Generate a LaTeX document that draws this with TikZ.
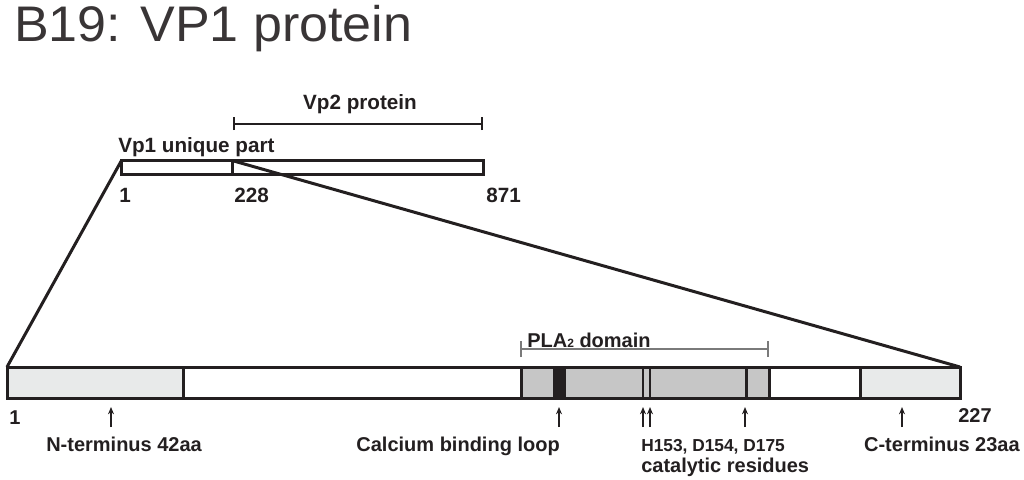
\documentclass[tikz,border=0pt]{standalone}
\usepackage{fontspec}
\setmainfont{Liberation Sans}
\usetikzlibrary{arrows.meta,fit}
\definecolor{ink}{HTML}{231F20}
\definecolor{lightg}{HTML}{E8EAEA}
\definecolor{midg}{HTML}{C6C6C6}
\definecolor{brk}{HTML}{7A7A7A}
\begin{document}
\begin{tikzpicture}[x=0.75pt,y=-0.75pt,
  seg/.style={draw=ink, line width=2.25pt, inner sep=0pt, outer sep=0pt},
  lbl/.style={font=\fontsize{15.5}{18}\bfseries\selectfont, text=ink, inner sep=0pt},
  lbb/.style={font=\fontsize{15}{18}\bfseries\selectfont, text=ink, inner sep=0pt},
  sml/.style={font=\fontsize{13}{16}\bfseries\selectfont, text=ink, inner sep=0pt},
  pin/.style={draw=ink, line width=1.1pt, -{Stealth[length=5.5pt,width=4.5pt]}},
  divider/.style={draw=ink, line width=2.25pt},
  thin/.style={draw=ink, line width=1.8pt},
  bracket/.style={draw=brk, line width=0.8pt}]
\useasboundingbox (0,0) rectangle (1024,479);

% title
\node[anchor=base west, inner sep=0pt, text=ink!90] (title) at (14,41)
  {\fontsize{37.5}{42}\selectfont\scalebox{1.04}[1]{B19: VP1 protein}};

% top overview box
\node[seg, fit={(121.5,160.5) (232,174.5)}] (uniq) {};
\node[seg, fit={(232,160.5) (483.5,174.5)}] (rest) {};
\node[lbl, anchor=base west] (uniqlbl) at (118,152) {Vp1 unique part};
\coordinate (vpa) at (234,124);
\coordinate (vpb) at (482,124);
\draw[ink, line width=2pt] (vpa) -- (vpb);
\draw[bracket, draw=ink] ([yshift=-4.5]vpa) -- ([yshift=5]vpa);
\draw[bracket, draw=ink] ([yshift=-4.5]vpb) -- ([yshift=5]vpb);
\node[lbl] (vp2lbl) at (360,104) {Vp2 protein};
\node[lbl, anchor=base west] (n1) at (119,202) {1};
\node[lbl, anchor=base west] (n228) at (234,202) {228};
\node[lbl, anchor=base west] (n871) at (486,202) {871};

% bottom bar fills
\fill[lightg] (7,367) rectangle (183,398);
\fill[midg] (521,367) rectangle (769,398);
\fill[lightg] (860,367) rectangle (960,398);
\fill[ink] (553,367) rectangle (566,398);
% dividers
\draw[divider] (183,367) -- (183,398);
\draw[divider] (521,367) -- (521,398);
\draw[thin] (643,367) -- (643,398);
\draw[thin] (650,367) -- (650,398);
\draw[divider] (746,367) -- (746,398);
\draw[divider] (769,367) -- (769,398);
\draw[divider] (860,367) -- (860,398);
\node[seg, fit={(7,367) (960,398)}] (bar) {};

% zoom lines
\draw[ink, line width=2.25pt] (uniq.north west) -- (bar.north west);
\draw[ink, line width=2.25pt] (uniq.north east) -- (bar.north east);

% PLA2 bracket
\coordinate (pa) at (521,349);
\coordinate (pb) at (768,349);
\draw[bracket] (pa) -- (pb);
\draw[bracket] ([yshift=-6]pa) -- ([yshift=6]pa);
\draw[bracket] ([yshift=-6]pb) -- ([yshift=6]pb);
\node[lbb, anchor=base west] (plalbl) at (527,347)
  {PLA{\fontsize{9}{10}\selectfont 2} domain};

% numbers
\node[lbb, anchor=base west] (b1) at (9,424) {1};
\node[lbb, anchor=base west] (b227) at (958,422) {227};

% arrows
\coordinate (a1t) at (111,407); \coordinate (a1b) at (111,427);
\coordinate (a2t) at (559,407); \coordinate (a2b) at (559,427);
\coordinate (a3t) at (643,407); \coordinate (a3b) at (643,427);
\coordinate (a4t) at (650,407); \coordinate (a4b) at (650,427);
\coordinate (a5t) at (745,407); \coordinate (a5b) at (745,427);
\coordinate (a6t) at (902,407); \coordinate (a6b) at (902,427);
\foreach \i in {1,...,6} \draw[pin] (a\i b) -- (a\i t);

% labels
\node[lbb, anchor=base west] (nterm) at (46,451) {N-terminus 42aa};
\node[lbb, anchor=base east] (calc) at (560,451) {Calcium binding loop};
\node[sml, anchor=base west] (res) at (641,451) {H153, D154, D175};
\node[lbb, anchor=base west] (cat) at (641,472) {catalytic residues};
\node[lbb, anchor=base east] (cterm) at (1020,451) {C-terminus 23aa};
\end{tikzpicture}
\end{document}
